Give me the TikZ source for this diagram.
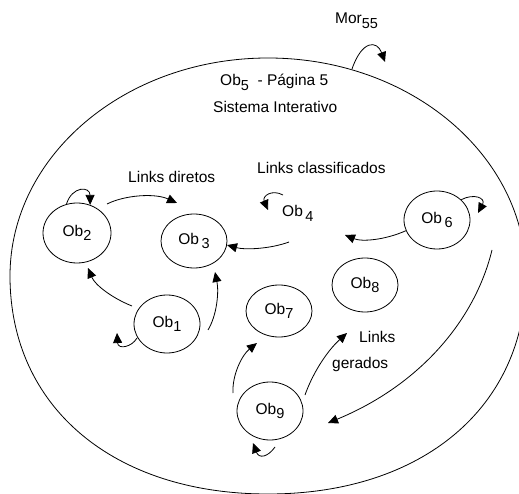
\documentclass[tikz,border=0pt]{standalone}
\usepackage{fontspec}
\setmainfont{Liberation Sans}
\usetikzlibrary{shapes.geometric,arrows.meta,calc}
% lowered index digits, as in Ob1, Mor55
\newcommand{\sbs}[1]{\raisebox{-4.5pt}{\fontsize{14.5}{16}\selectfont #1}}

\begin{document}
\begin{tikzpicture}[x=1pt,y=-1pt,
  every node/.style={font=\fontsize{15.5}{18}\selectfont},
  obj/.style={draw, ellipse, line width=0.8pt, minimum width=66pt, minimum height=56pt, inner sep=0pt},
  lbl/.style={inner sep=0pt, anchor=base west},
  link/.style={line width=0.8pt, -{Triangle[length=10pt,width=9pt]}},
]
\useasboundingbox (0,0) rectangle (519,494);

% the page that holds every object (its lower half a little fuller)
\draw[line width=0.8pt] (526,276)
  .. controls (526,406.8) and (422.8,494) .. (268,494)
  .. controls (113.2,494) and (10,406.8) .. (10,276)
  .. controls (10,155.6) and (125.5,58) .. (268,58)
  .. controls (410.5,58) and (526,155.6) .. cycle;

% objects
\node[obj, minimum width=68pt, minimum height=60pt] (o2) at (77,233) {Ob\sbs{2}};
\node[obj, minimum height=54pt] (o3) at (194,241) {Ob\,\sbs{3}};
\node[obj, minimum height=58pt] (o1) at (167,324) {Ob\sbs{1}};
\node[obj, minimum height=52pt] (o7) at (279,311) {Ob\sbs{7}};
\node[obj, minimum height=54pt] (o8) at (365,285) {Ob\sbs{8}};
\node[obj, minimum height=58pt] (o9) at (270,411) {Ob\sbs{9}};
\node[obj, minimum height=58pt] (o6) at (437,220) {Ob\,\sbs{6}};
\node[lbl] (o4) at (282,217) {Ob\,\sbs{4}};

% texts
\node[lbl] (mor) at (335,24) {Mor\sbs{55}};
\node[lbl] (title) at (220,86) {Ob\sbs{5}\ \ - Página 5};
\node[lbl] (sys) at (213,113) {Sistema Interativo};
\node[lbl] (ldir) at (128,183) {Links diretos};
\node[lbl] (lcls) at (257,174) {Links classificados};
\node[lbl] (lgen1) at (359,342) {Links};
\node[lbl] (lgen2) at (332,368) {gerados};

% free arrow ends
\coordinate (morStart) at (352,69);
\coordinate (morTip) at (385,62);
\coordinate (clsTip) at (345,235);
\coordinate (genStart) at (492,250);
\coordinate (genTip) at (328,423);
\coordinate (genLbl) at (347,333);

% links
\draw[link] (morStart) .. controls (362,40) and (377,40) .. (morTip);
\draw[link] (o2.110) .. controls (72,186) and (90,186) .. (o2.65);
\draw[link] ($(o2)+(30,-29)$) .. controls (125,195) and (155,193) .. ($(o3)+(-17,-38)$);
\draw[link] ($(o1)+(-35,-18)$) .. controls (112,298) and (95,285) .. ($(o2)+(11,35)$);
\draw[link] ($(o1)+(41,6)$) .. controls (217,315) and (219,292) .. ($(o3)+(21,31)$);
\draw[link] ($(o1)+(-30,14)$) .. controls (132,347) and (118,350) .. ($(o1)+(-50,9)$);
\draw[link] ($(o4.base west)+(1,-22)$) .. controls (272,189) and (262,196) .. ($(o4.base west)+(-14,-7)$);
\draw[link] ($(o4.base west)+(7,25)$) .. controls (270,249) and (245,250) .. (o3.-7);
\draw[link] (o6.199) .. controls (385,240) and (362,242) .. (clsTip);
\draw[link] (o6.40) .. controls (474,193) and (486,198) .. ($(o6)+(41,-7)$);
\draw[link] (genStart) .. controls (475,320) and (420,385) .. (genTip);
\draw[link] ($(o9)+(-37,-18)$) .. controls (232,375) and (242,355) .. ($(o7)+(-22,32)$);
\draw[link] ($(o9)+(35,-16)$) .. controls (312,375) and (326,352) .. (genLbl);
\draw[link] ($(o9)+(5,36)$) .. controls (268,457) and (259,459) .. ($(o9)+(-17,32)$);
\end{tikzpicture}
\end{document}
